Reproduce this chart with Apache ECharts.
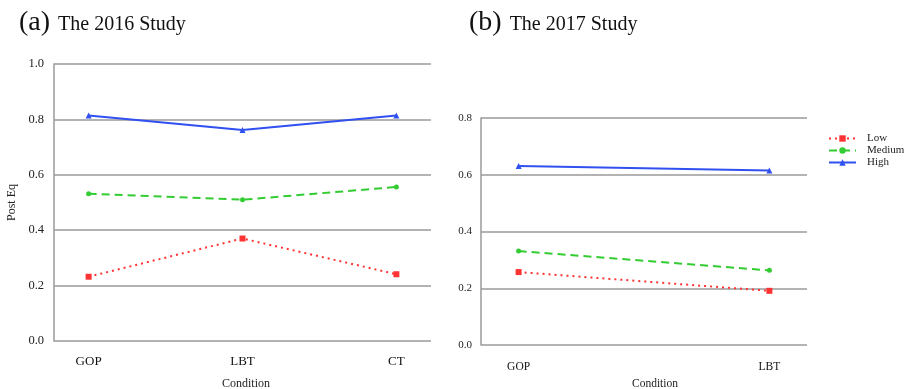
<!DOCTYPE html>
<html>
<head>
<meta charset="utf-8">
<script src="https://cdn.jsdelivr.net/npm/echarts@6/dist/echarts.min.js"></script>
<style>
html,body{margin:0;padding:0;background:#fff;}
#chart{width:910px;height:389px;}
</style>
</head>
<body>
<div id="chart"></div>
<script>
// ---- data ----
var categories2016 = ['GOP', 'LBT', 'CT'];
var low2016 = [0.232, 0.370, 0.241];
var medium2016 = [0.532, 0.510, 0.556];
var high2016 = [0.814, 0.762, 0.814];

var categories2017 = ['GOP', 'LBT'];
var low2017 = [0.257, 0.191];
var medium2017 = [0.331, 0.263];
var high2017 = [0.631, 0.615];

var seriesNames = ['Low', 'Medium', 'High'];
var titles = [['(a)', 'The 2016 Study'], ['(b)', 'The 2017 Study']];
var yAxisName = 'Post Eq';
var xAxisName = 'Condition';

// ---- styles ----
var FONT = "'Liberation Serif', 'Times New Roman', serif";
var GRID_C = '#9a9a9a';
var colors = {Low: '#ff3333', Medium: '#33cc33', High: '#3050f0'};
var dash = {Low: [2, 4], Medium: [8, 5], High: 'solid'};
var symbols = {Low: 'rect', Medium: 'circle', High: 'triangle'};
var symSize = {Low: 6, Medium: 5, High: 6};

function pts(arr) { return arr.map(function (v, i) { return [i, v]; }); }

function mkSeries(name, arr, idx) {
  return {
    name: name, type: 'line', xAxisIndex: idx, yAxisIndex: idx,
    data: pts(arr),
    symbol: symbols[name], symbolSize: symSize[name], showSymbol: true,
    itemStyle: {color: colors[name]},
    lineStyle: {color: colors[name], width: 2, type: dash[name]},
    emphasis: {disabled: true}, animation: false
  };
}

function yAx(idx, max, fs, margin, withName) {
  var ax = {
    type: 'value', gridIndex: idx, min: 0, max: max, interval: 0.2,
    axisLine: {show: true, onZero: false, lineStyle: {color: GRID_C, width: 1.5}},
    axisTick: {show: false},
    splitLine: {show: true, lineStyle: {color: GRID_C, width: 1.5}},
    axisLabel: {fontFamily: FONT, fontSize: fs, color: '#222', margin: margin,
      formatter: function (v) { return v.toFixed(1); }}
  };
  if (withName) {
    ax.name = yAxisName; ax.nameLocation = 'middle'; ax.nameGap = 36;
    ax.nameTextStyle = {fontFamily: FONT, fontSize: 12, color: '#222'};
  }
  return ax;
}

function xAx(idx, cats, pad, fs, margin, nameFs, nameGap, namePad) {
  return {
    type: 'value', gridIndex: idx, min: -pad, max: cats.length - 1 + pad,
    axisLine: {show: false, onZero: false}, axisTick: {show: false}, splitLine: {show: false},
    axisLabel: {customValues: cats.map(function (c, i) { return i; }),
      fontFamily: FONT, fontSize: fs, color: '#111', margin: margin,
      formatter: function (v) { return cats[Math.round(v)] || ''; }},
    name: xAxisName, nameLocation: 'middle', nameGap: nameGap,
    nameTextStyle: {fontFamily: FONT, fontSize: nameFs, color: '#222', padding: namePad}
  };
}

var titleRich = {
  a: {fontFamily: FONT, fontSize: 28, fontWeight: 'normal', color: '#111', verticalAlign: 'bottom'},
  b: {fontFamily: FONT, fontSize: 20, fontWeight: 'normal', color: '#111', verticalAlign: 'bottom', padding: [0, 0, 2, 8]}
};

var option = {
  backgroundColor: '#fff',
  animation: false,
  title: [
    {text: '{a|' + titles[0][0] + '}{b|' + titles[0][1] + '}', left: 14, top: 4,
      textStyle: {fontWeight: 'normal', rich: titleRich}},
    {text: '{a|' + titles[1][0] + '}{b|' + titles[1][1] + '}', left: 464, top: 4,
      textStyle: {fontWeight: 'normal', rich: titleRich}}
  ],
  legend: {
    data: seriesNames, orient: 'vertical', left: 828, top: 133, padding: 0,
    itemWidth: 27, itemHeight: 8, itemGap: 1,
    textStyle: {fontFamily: FONT, fontSize: 11, color: '#222', padding: [0, 0, 0, 6]}
  },
  grid: [
    {left: 54, right: 479, top: 64, bottom: 48, outerBoundsMode: 'none'},
    {left: 481, right: 103, top: 118, bottom: 44, outerBoundsMode: 'none'}
  ],
  xAxis: [
    xAx(0, categories2016, 0.225, 13, 14, 12, 37, [0, 0, 0, 7]),
    xAx(1, categories2017, 0.15, 11.5, 16, 11.5, 33, [0, 0, 0, 22])
  ],
  yAxis: [
    yAx(0, 1.0, 12.5, 10, true),
    yAx(1, 0.8, 11, 9, false)
  ],
  series: [
    mkSeries('Low', low2016, 0),
    mkSeries('Medium', medium2016, 0),
    mkSeries('High', high2016, 0),
    mkSeries('Low', low2017, 1),
    mkSeries('Medium', medium2017, 1),
    mkSeries('High', high2017, 1)
  ]
};

var chart = echarts.init(document.getElementById('chart'), null, {renderer: 'canvas'});
chart.setOption(option);
</script>
</body>
</html>
